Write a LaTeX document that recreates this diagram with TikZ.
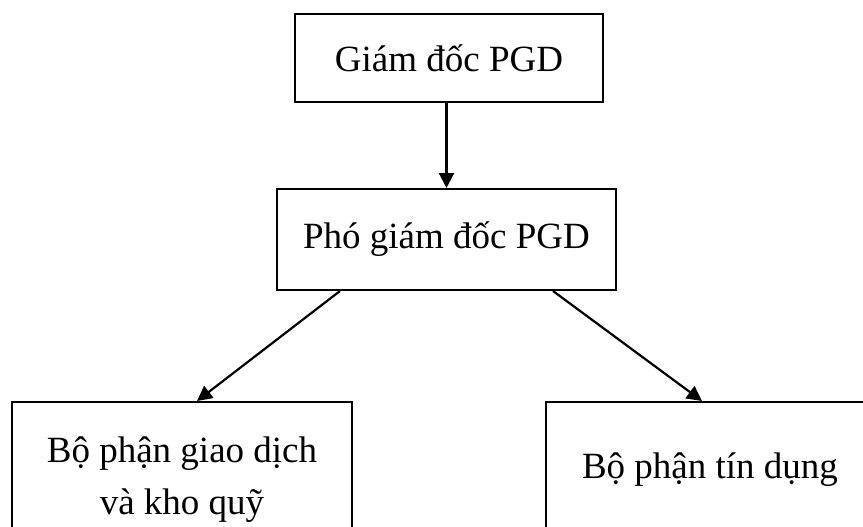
\documentclass[tikz,border=0pt]{standalone}
\usepackage{fontspec}
\setmainfont{Liberation Serif}
\usetikzlibrary{arrows.meta,calc}
\begin{document}
\begin{tikzpicture}[x=1pt,y=-1pt,
  box/.style={draw=black,line width=2pt,rectangle,inner sep=0pt,align=center,
    font=\fontsize{37}{52}\selectfont},
  conn/.style={line width=2.2pt,-{Triangle[length=15pt,width=15pt]}}]
\useasboundingbox (0,0) rectangle (863,527);
\fill[white] (0,0) rectangle (863,527);
\node[box,minimum width=308pt,minimum height=88pt] (gd) at (449,58) {Giám đốc PGD};
\node[box,minimum width=339pt,minimum height=101pt] (pgd) at (446.5,239.5) {Phó giám đốc PGD};
\node[box,minimum width=340pt,minimum height=156pt] (gdkq) at (182,480) {Bộ phận giao dịch\\và kho quỹ};
\node[box,minimum width=400pt,minimum height=136pt] (td) at (746,470) {\makebox[328pt][c]{Bộ phận tín dụng}\hspace*{72pt}};
\coordinate (tdin) at ([xshift=-44pt]td.north);
\draw[conn] (gd.south -| pgd.north) -- (pgd.north);
\draw[conn] ([xshift=-106.5pt]pgd.south) -- ([xshift=15pt]gdkq.north);
\draw[conn] ([xshift=106.5pt]pgd.south) -- (tdin);
\end{tikzpicture}
\end{document}
